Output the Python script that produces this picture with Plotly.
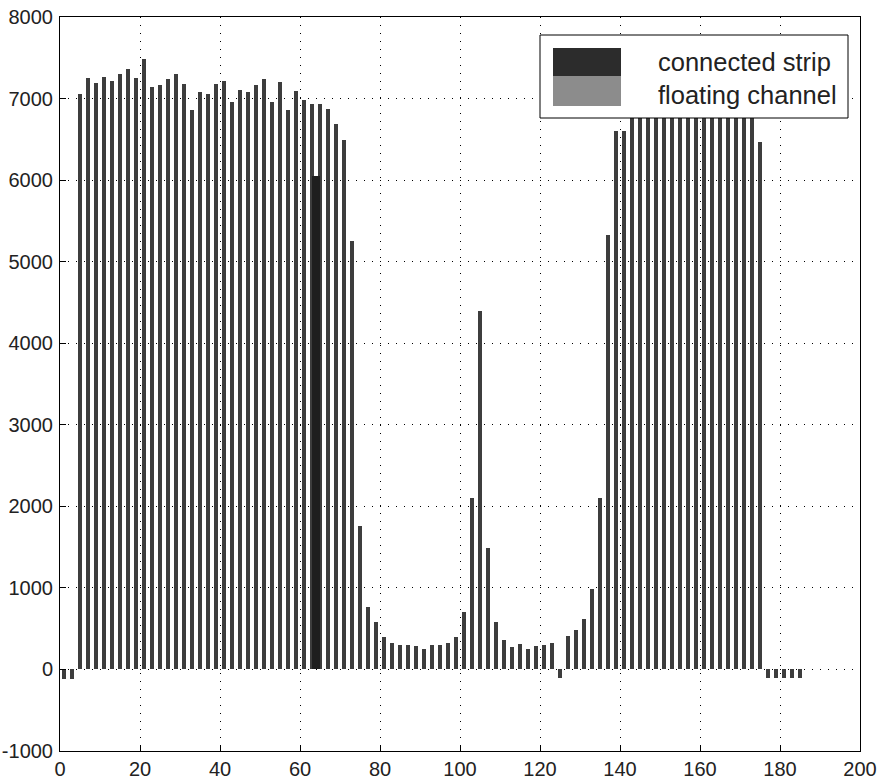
import plotly.graph_objects as go

# floating channels: channel positions (odd numbers 1..185) and signal values
channels = list(range(1, 186, 2))
floating_values = [
    -120, -120, 7060, 7250, 7187, 7270, 7220, 7300, 7360, 7257,
    7482, 7142, 7167, 7236, 7298, 7180, 6863, 7081, 7060, 7183,
    7220, 6953, 7109, 7077, 7171, 7236, 6962, 7199, 6863, 7093,
    6986, 6929, 6933, 6876, 6683, 6494, 5250, 1760, 771, 578,
    402, 324, 295, 295, 291, 250, 304, 295, 328, 398,
    709, 2100, 4400, 1495, 582, 365, 275, 316, 254, 291,
    304, 324, -100, 406, 480, 615, 984, 2100, 5330, 6605,
    6605, 7150, 7230, 7080, 7260, 7190, 7120, 7300, 7210, 7170,
    7090, 7240, 7160, 7200, 7130, 7270, 7180, 6466, -100, -100,
    -100, -100, -100,
]

# connected strip
connected_x = [64]
connected_values = [6050]

x_ticks = [0, 20, 40, 60, 80, 100, 120, 140, 160, 180, 200]
x_tick_text = ["0", "20", "40", "60", "80", "100", "120", "140", "160", "180", "200"]
y_ticks = [-1000, 0, 1000, 2000, 3000, 4000, 5000, 6000, 7000, 8000]
y_tick_text = ["-1000", "0", "1000", "2000", "3000", "4000", "5000", "6000", "7000", "8000"]
legend_labels = ["connected strip", "floating channel"]

FONT = "Liberation Sans, Arial, Helvetica"

fig = go.Figure()
fig.add_trace(go.Bar(
    x=channels, y=floating_values, width=1.15,
    marker=dict(color="#3d3d3d", line=dict(width=0)),
    name=legend_labels[1], showlegend=False,
))
fig.add_trace(go.Bar(
    x=connected_x, y=connected_values, width=1.9,
    marker=dict(color="#1e1e1e", line=dict(width=0)),
    name=legend_labels[0], showlegend=False,
))

# plot area in page pixels: left 60, right 860, top 17, bottom 751
def px(xp):
    return (xp - 60) / 800

def py(yp):
    return (751 - yp) / 734

# legend box drawn as shapes (opaque, above bars)
fig.add_shape(type="rect", xref="paper", yref="paper",
              x0=px(540), x1=px(848), y0=py(118), y1=py(35),
              fillcolor="white", line=dict(color="black", width=1), layer="above")
fig.add_shape(type="rect", xref="paper", yref="paper",
              x0=px(553), x1=px(621), y0=py(76), y1=py(48),
              fillcolor="#2c2c2c", line=dict(width=0), layer="above")
fig.add_shape(type="rect", xref="paper", yref="paper",
              x0=px(553), x1=px(621), y0=py(106), y1=py(76),
              fillcolor="#8c8c8c", line=dict(width=0), layer="above")
fig.add_annotation(xref="paper", yref="paper", x=px(656), y=py(62),
                   text=legend_labels[0], showarrow=False, xanchor="left", yanchor="middle",
                   font=dict(family=FONT, size=25.5, color="#222"))
fig.add_annotation(xref="paper", yref="paper", x=px(656), y=py(95),
                   text=legend_labels[1], showarrow=False, xanchor="left", yanchor="middle",
                   font=dict(family=FONT, size=25.5, color="#222"))

axis_common = dict(
    showline=True, linecolor="black", linewidth=1, mirror=True,
    ticks="inside", ticklen=6, tickcolor="black",
    showgrid=True, gridcolor="black", griddash="1px,7px", gridwidth=1.2,
    zeroline=False, automargin=False, ticklabeloverflow="allow",
    tickfont=dict(family=FONT, size=20, color="#222"),
)
fig.update_xaxes(range=[0, 200], tickvals=x_ticks, ticktext=x_tick_text, **axis_common)
fig.update_yaxes(range=[-1000, 8000], tickvals=y_ticks, ticktext=y_tick_text, ticklabelstandoff=2, **axis_common)

fig.update_layout(
    width=882, height=780,
    margin=dict(l=60, r=22, t=17, b=29),
    plot_bgcolor="white", paper_bgcolor="white",
    bargap=0, barmode="overlay", showlegend=False,
)

# remove the default page margin so the figure fills the window exactly
fig.write_html("out.html", config={"displayModeBar": False},
               post_script="document.body.style.margin='0';")
